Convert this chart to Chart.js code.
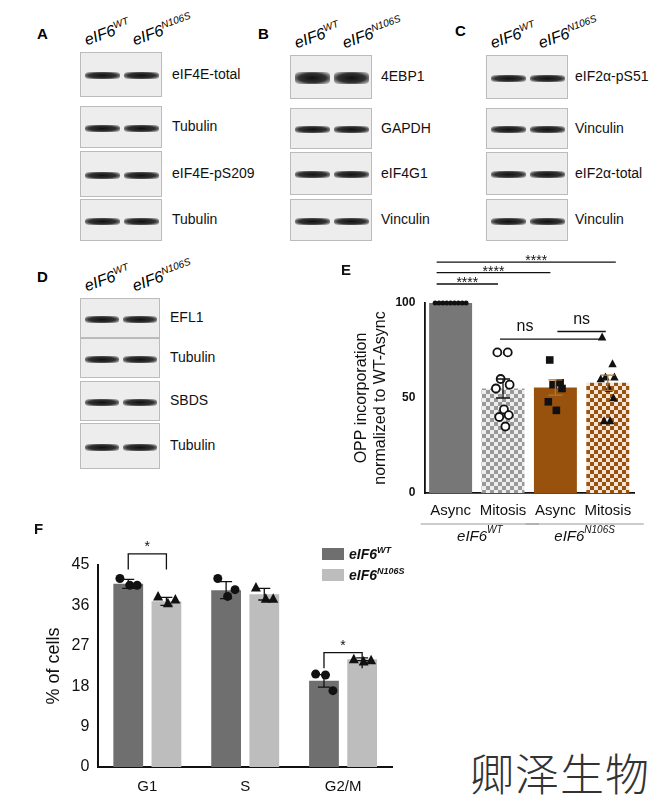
<!DOCTYPE html>
<html><head><meta charset="utf-8">
<script src="https://cdn.jsdelivr.net/npm/chart.js@4"></script>
<style>
body{margin:0;width:664px;height:805px;background:#fff;font-family:Arial,"Liberation Sans",sans-serif;position:relative;overflow:hidden}
.pl{position:absolute;font-weight:bold;font-size:15px}
.blot{position:absolute;border:1px solid #bbb;background:#ededed;box-sizing:border-box;overflow:hidden}
.band{position:absolute;height:7px;border-radius:4px;background:radial-gradient(ellipse at center,#111 0%,#333 55%,rgba(80,80,80,0) 100%)}
.lab{position:absolute;font-size:14px;color:#111}
.hd{position:absolute;font-style:italic;font-size:16px;transform:rotate(-20deg);transform-origin:left bottom;white-space:nowrap}
.hd sup{font-size:10px}
canvas{position:absolute}
#wm{position:absolute;left:470px;top:740px;font-family:"Noto Sans CJK SC";font-size:44px;font-weight:300;color:#333;letter-spacing:1px}
</style></head><body>
<div id="blots"></div>
<canvas id="cE" style="left:330px;top:250px"></canvas>
<canvas id="cF" style="left:30px;top:520px"></canvas>
<div id="wm">卿泽生物</div>
<script>
// ---------- data ----------
const eCats = ['Async','Mitosis','Async','Mitosis'];
const eMeans = [100, 55, 55.5, 58];
const eErr = [0, 5, 4, 4];
const eWTAsyncPts = [100,100,100,100,100,100,100,100,100];
const eWTMitPts = [74,74,60,57,55,44,41,40,35];
const eMutAsyncPts = [70,58,57,55,48,43.5];
const eMutMitPts = [82,68,61,61,60,55,50,38,38];
const eTicks = [0,50,100];

const fCats = ['G1','S','G2/M'];
const fWT = [40.8, 39.4, 19.2];
const fMut = [36.9, 38.5, 24.0];
const fWTErr = [1.0, 1.9, 1.4];
const fMutErr = [0.9, 1.3, 0.3];
const fWTPts = [[42,40.5,40.5],[42,38,39.5],[20.7,20.5,17]];
const fMutPts = [[38,36.5,37.3],[40,37.5,37.5],[24,23.5,23.8]];
const fTicks = [0,9,18,27,36,45];

// ---------- blot panels (decorative) ----------
const blotPanels = [
 {L:'A',lx:37,ly:25,hx:88,x:80,w:82,lab:172,rows:[[52,45,'eIF4E-total'],[106,42,'Tubulin'],[151,46,'eIF4E-pS209'],[199,42,'Tubulin']]},
 {L:'B',lx:258,ly:25,hx:298,x:290,w:82,lab:381,rows:[[55,44,'4EBP1'],[108,41,'GAPDH'],[152,43,'eIF4G1'],[199,42,'Vinculin']]},
 {L:'C',lx:455,ly:22,hx:494,x:486,w:82,lab:575,rows:[[55,44,'eIF2\u03b1-pS51'],[108,41,'Vinculin'],[152,43,'eIF2\u03b1-total'],[199,42,'Vinculin']]},
 {L:'D',lx:37,ly:268,hx:88,x:80,w:80,lab:170,rows:[[298,40,'EFL1'],[338,40,'Tubulin'],[381,40,'SBDS'],[423,46,'Tubulin']]}
];
const bl=document.getElementById('blots');
blotPanels.forEach(p=>{
 bl.insertAdjacentHTML('beforeend',`<div class="pl" style="left:${p.lx}px;top:${p.ly}px">${p.L}</div>`);
 const hy=p.rows[0][0]-22;
 bl.insertAdjacentHTML('beforeend',`<div class="hd" style="left:${p.hx}px;top:${hy}px">eIF6<sup>WT</sup></div>`);
 bl.insertAdjacentHTML('beforeend',`<div class="hd" style="left:${p.hx+48}px;top:${hy}px">eIF6<sup>N106S</sup></div>`);
 p.rows.forEach(r=>{
  const bh = r[2]==='4EBP1'?12:7;
  bl.insertAdjacentHTML('beforeend',`<div class="blot" style="left:${p.x}px;top:${r[0]}px;width:${p.w}px;height:${r[1]}px">
   <div class="band" style="left:4px;width:${p.w/2-6}px;top:${r[1]/2-bh/2}px;height:${bh}px"></div>
   <div class="band" style="left:${p.w/2+2}px;width:${p.w/2-6}px;top:${r[1]/2-bh/2}px;height:${bh}px"></div></div>`);
  bl.insertAdjacentHTML('beforeend',`<div class="lab" style="left:${p.lab}px;top:${r[0]+r[1]/2-9}px">${r[2]}</div>`);
 });
});

// ---------- helpers ----------
function checker(c1,c2,s){const cv=document.createElement('canvas');cv.width=cv.height=s*2;const g=cv.getContext('2d');
 g.fillStyle=c2;g.fillRect(0,0,s*2,s*2);g.fillStyle=c1;g.fillRect(0,0,s,s);g.fillRect(s,s,s,s);
 return g.createPattern(cv,'repeat');}
const jit = [-0.12,0.1,-0.05,0.14,-0.15,0.02,0.12,-0.08,0.05];
function marker(c,style,x,y,r,fill){c.beginPath();
 if(style==='circle'){c.arc(x,y,r,0,Math.PI*2);}
 else if(style==='rect'){c.rect(x-r,y-r,2*r,2*r);}
 else {c.moveTo(x,y-r*1.1);c.lineTo(x+r,y+r*0.8);c.lineTo(x-r,y+r*0.8);c.closePath();}
 if(fill){c.fillStyle='#111';c.fill();}else{c.fillStyle='#fff';c.fill();c.lineWidth=1.8;c.strokeStyle='#111';c.stroke();}}
Chart.defaults.font.family='Arial, "Liberation Sans", sans-serif';
Chart.defaults.color='#111';

// ---------- Chart E ----------
const cE=document.getElementById('cE');cE.width=334;cE.height=295;
const ePtSets=[[eWTAsyncPts,'circle',2.5,true],[eWTMitPts,'circle',4,false],[eMutAsyncPts,'rect',3.8,true],[eMutMitPts,'triangle',4.2,true]];
const gE={id:'gE',afterDatasetsDraw(ch){
 const c=ch.ctx,x=ch.scales.x,y=ch.scales.y;c.save();
 const bw=ch.getDatasetMeta(0).data[0].width;
 ePtSets.forEach(([vals,st,r,f],i)=>{const cx=x.getPixelForValue(i);
  vals.forEach((v,k)=>{const dx = i===0 ? (k-(vals.length-1)/2)*bw*0.09 : jit[k%jit.length]*bw*1.1;
   marker(c,st,cx+dx,y.getPixelForValue(v),r,f);});});
 c.lineWidth=1.3;
 eMeans.forEach((m,i)=>{if(!eErr[i])return;const px=x.getPixelForValue(i);c.strokeStyle=i>=2?'#b8752a':'#111';
  c.beginPath();c.moveTo(px,y.getPixelForValue(m-eErr[i]));c.lineTo(px,y.getPixelForValue(m+eErr[i]));
  [m-eErr[i],m+eErr[i]].forEach(v=>{c.moveTo(px-7,y.getPixelForValue(v));c.lineTo(px+7,y.getPixelForValue(v));});c.stroke();});
 c.strokeStyle='#111';c.fillStyle='#111';c.textAlign='center';
 const yb=(lvl)=>y.getPixelForValue(lvl);
 [[1,110],[2,116],[3,121.5]].forEach(([j,l])=>{const yy=yb(l);const x1=x.getPixelForValue(0)-14,x2=x.getPixelForValue(j)+(j==3?8:-5);
  c.beginPath();c.moveTo(x1,yy);c.lineTo(x2,yy);c.stroke();c.font='14px Arial';c.fillText('****',(x1+x2)/2+(j==3?10:0),yy+3);});
 c.font='16px Arial';
 let yy=yb(81);c.beginPath();c.moveTo(x.getPixelForValue(1)-3,yy);c.lineTo(x.getPixelForValue(3)-5,yy);c.stroke();c.fillText('ns',x.getPixelForValue(1)+22,yy-8);
 yy=yb(85);c.beginPath();c.moveTo(x.getPixelForValue(2)+2,yy);c.lineTo(x.getPixelForValue(3)-2,yy);c.stroke();c.fillText('ns',(x.getPixelForValue(2)+x.getPixelForValue(3))/2,yy-8);
 const by=x.bottom+3;c.strokeStyle='#999';c.lineWidth=1;
 [[0,1,'WT'],[2,3,'N106S']].forEach(([a,b,s])=>{const x1=x.getPixelForValue(a)-30,x2=x.getPixelForValue(b)+36;
  c.beginPath();c.moveTo(x1,by);c.lineTo(x2,by);c.stroke();
  const cx=(x1+x2)/2;c.font='italic 15px Arial';const w1=c.measureText('eIF6').width;c.font='italic 10px Arial';const w2=c.measureText(s).width;
  const sx=cx-(w1+w2)/2;c.textAlign='left';c.font='italic 15px Arial';c.fillStyle='#111';c.fillText('eIF6',sx,by+17);c.font='italic 10px Arial';c.fillText(s,sx+w1,by+9);c.textAlign='center';});
 c.font='bold 15px Arial';c.textAlign='left';c.fillText('E',11,25);
 c.restore();}};
new Chart(cE,{type:'bar',data:{labels:eCats,datasets:[
 {data:eMeans,backgroundColor:['#777777',checker('#999','#eee',4),'#99520d',checker('#99520d','#f3e6d8',4)],barPercentage:0.82,categoryPercentage:1}
]},plugins:[gE],options:{responsive:false,animation:false,events:[],
 layout:{padding:{top:53,bottom:24,right:30,left:20}},
 plugins:{legend:{display:false},tooltip:{enabled:false}},
 scales:{x:{grid:{display:false},border:{color:'#111',width:1.8},ticks:{font:{size:15},color:'#111',padding:1,maxRotation:0,minRotation:0,autoSkip:false}},
  y:{min:0,max:100,afterBuildTicks:s=>{s.ticks=eTicks.map(v=>({value:v}))},grid:{display:false,tickLength:6,tickColor:'#111'},border:{color:'#111',width:1.8},
   ticks:{font:{size:12,weight:'bold'},color:'#111'},
   title:{display:true,text:['OPP incorporation','normalized to WT-Async'],font:{size:16},color:'#111',padding:2}}}}});

// ---------- Chart F ----------
const cF=document.getElementById('cF');cF.width=420;cF.height=285;
const gF={id:'gF',afterDatasetsDraw(ch){
 const c=ch.ctx,y=ch.scales.y;c.save();c.strokeStyle='#111';c.fillStyle='#111';c.lineWidth=1.3;
 [0,1].forEach(d=>{const meta=ch.getDatasetMeta(d);const m=d?fMut:fWT,e=d?fMutErr:fWTErr,P=d?fMutPts:fWTPts;
  meta.data.forEach((b,i)=>{const px=b.x;
   P[i].forEach((v,k)=>marker(c,d?'triangle':'circle',px+[-0.28,0.05,0.3][k]*b.width,y.getPixelForValue(v),d?5:4.5,true));
   c.strokeStyle='#111';c.lineWidth=1.3;
   c.beginPath();c.moveTo(px,y.getPixelForValue(m[i]-e[i]));c.lineTo(px,y.getPixelForValue(m[i]+e[i]));
   [m[i]-e[i],m[i]+e[i]].forEach(v=>{c.moveTo(px-6,y.getPixelForValue(v));c.lineTo(px+6,y.getPixelForValue(v));});c.stroke();});});
 c.font='14px Arial';c.textAlign='center';c.fillStyle='#111';
 [[0,47.5,44],[2,25.5,22]].forEach(([i,top,leg])=>{const a=ch.getDatasetMeta(0).data[i].x,b=ch.getDatasetMeta(1).data[i].x;
  const t=y.getPixelForValue(top),l=y.getPixelForValue(leg);c.beginPath();c.moveTo(a,l);c.lineTo(a,t);c.lineTo(b,t);c.lineTo(b,l);c.stroke();c.fillText('*',(a+b)/2,t-3);});
 const lx=292,ly=[34,55];[['#6f6f6f','WT'],['#bdbdbd','N106S']].forEach(([col,s],k)=>{c.fillStyle=col;c.fillRect(lx,ly[k]-6,22,12);
  c.fillStyle='#111';c.textAlign='left';c.font='italic bold 14px Arial';c.fillText('eIF6',lx+27,ly[k]+5);const w=c.measureText('eIF6').width;
  c.font='italic bold 9px Arial';c.fillText(s,lx+27+w,ly[k]-1);});
 c.font='bold 15px Arial';c.fillText('F',4,14);
 c.restore();}};
new Chart(cF,{type:'bar',data:{labels:fCats,datasets:[
 {data:fWT,backgroundColor:'#6f6f6f',barPercentage:0.78,categoryPercentage:0.78},
 {data:fMut,backgroundColor:'#bdbdbd',barPercentage:0.78,categoryPercentage:0.78}
]},plugins:[gF],options:{responsive:false,animation:false,events:[],
 layout:{padding:{top:45,bottom:6,right:58,left:9}},
 plugins:{legend:{display:false},tooltip:{enabled:false}},
 scales:{x:{grid:{display:false},border:{color:'#111',width:2},ticks:{font:{size:15},color:'#111'}},
  y:{min:0,max:45,afterBuildTicks:s=>{s.ticks=fTicks.map(v=>({value:v}))},grid:{display:false,tickLength:6,tickColor:'#111'},border:{color:'#111',width:2},
   ticks:{font:{size:16},color:'#111'},title:{display:true,text:'% of cells',font:{size:18},color:'#111'}}}}});
</script></body></html>
